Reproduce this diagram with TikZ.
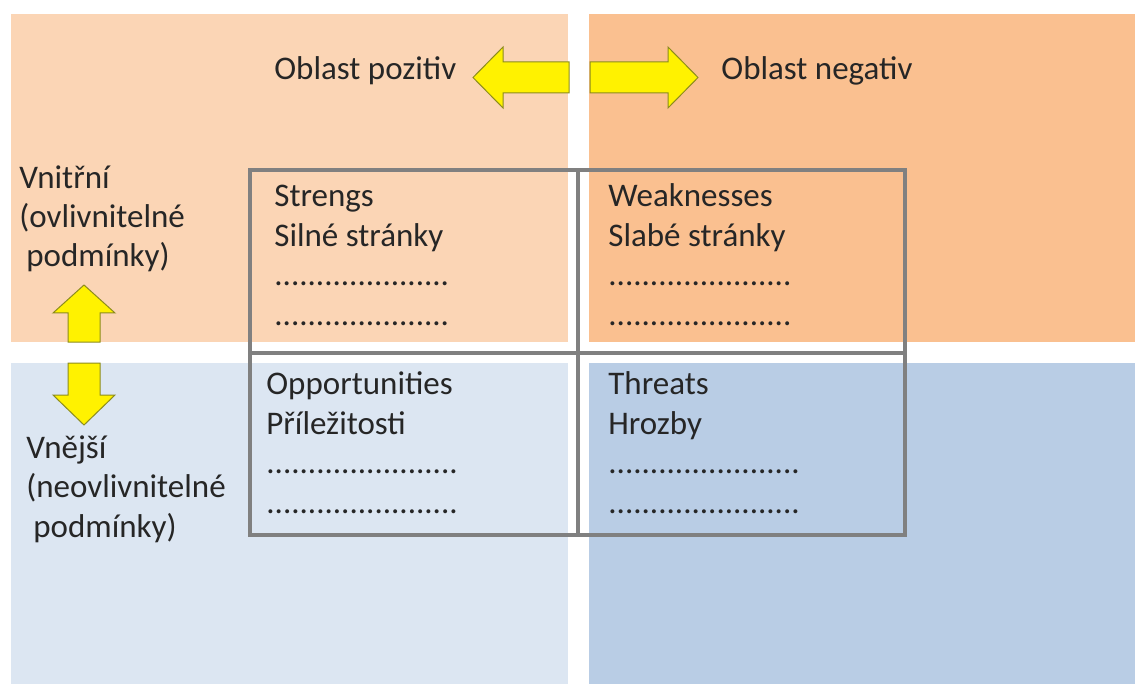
\documentclass[tikz,border=0pt]{standalone}
\usepackage{fontspec}
\setmainfont{Carlito}
\definecolor{peachlight}{RGB}{251,213,181}
\definecolor{peachdark}{RGB}{250,192,144}
\definecolor{bluelight}{RGB}{220,230,242}
\definecolor{bluedark}{RGB}{185,205,229}
\definecolor{arrowrim}{RGB}{140,140,30}
\definecolor{gridgray}{RGB}{128,128,128}

\begin{document}
\begin{tikzpicture}[x=0.5pt, y=-0.5pt,
every node/.style = {shape=rectangle, align=left, anchor=base west, inner sep=0pt, color=black!85,
  font=\fontsize{16.5}{19.75}\selectfont},
blockarrow/.style={fill=yellow, draw=arrowrim, line width=0.5pt},
grid line/.style={draw=gridgray, line width=2pt}]
%
\useasboundingbox (0,0) rectangle (1135,684);
\fill[peachlight] (11,14) rectangle (568,342);
\fill[peachdark] (589,14) rectangle (1135,342);
\fill[bluelight] (11,363) rectangle (568,684);
\fill[bluedark] (589,363) rectangle (1135,684);
%
\draw[blockarrow] (569,62) -- (503,62) -- (503,47) -- (473,77.5) -- (503,108) -- (503,93) -- (569,93) -- cycle;
\draw[blockarrow] (590,62) -- (668,62) -- (668,47) -- (698,77.5) -- (668,108) -- (668,93) -- (590,93) -- cycle;
\draw[blockarrow] (68,342) -- (68,313) -- (53,313) -- (84,285) -- (115,313) -- (100,313) -- (100,342) -- cycle;
\draw[blockarrow] (68,363) -- (68,395) -- (53,395) -- (84,425) -- (115,395) -- (100,395) -- (100,363) -- cycle;
%
\draw[grid line] (250,170) rectangle (905,535)
  (578,170) -- (578,535) (250,353) -- (905,353);
%
% multi-line nodes sit on the baseline of their last line
\node (positive) at (274,80) {Oblast pozitiv};
\node (negative) at (721,80) {Oblast negativ};
\node (internal) at (19,267) {Vnitřní\\(ovlivnitelné\\\hspace*{3.5pt}podmínky)};
\node (external) at (26,537) {Vnější\\(neovlivnitelné\\\hspace*{3.5pt}podmínky)};
%
\node (strengths) at (274,325) {Strengs\\Silné stránky\\.....................\\.....................};
\node (weaknesses) at (608,325) {Weaknesses\\Slabé stránky\\......................\\......................};
\node (opportunities) at (266,513) {Opportunities\\Příležitosti\\.......................\\.......................};
\node (threats) at (608,513) {Threats\\Hrozby\\.......................\\.......................};
\end{tikzpicture}
\end{document}
